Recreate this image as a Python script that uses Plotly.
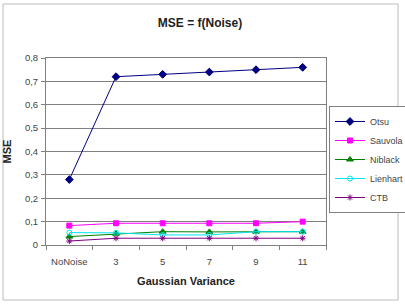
import plotly.graph_objects as go

categories = ["NoNoise", "3", "5", "7", "9", "11"]
otsu = [0.28, 0.72, 0.73, 0.74, 0.75, 0.76]
sauvola = [0.083, 0.093, 0.093, 0.093, 0.093, 0.10]
niblack = [0.036, 0.048, 0.057, 0.056, 0.057, 0.057]
lienhart = [0.053, 0.052, 0.043, 0.043, 0.057, 0.057]
ctb = [0.017, 0.029, 0.029, 0.029, 0.029, 0.029]

series = [
    ("Otsu", otsu, "#000080", "diamond", 6),
    ("Sauvola", sauvola, "#FF00FF", "square", 5),
    ("Niblack", niblack, "#008000", "triangle-up", 6),
    ("Lienhart", lienhart, "#00E5EE", "circle-open", 5),
    ("CTB", ctb, "#800080", "asterisk-open", 5),
]

fig = go.Figure()
for name, vals, color, sym, size in series:
    fig.add_trace(go.Scatter(
        x=categories, y=vals, name=name, mode="lines+markers",
        line=dict(color=color, width=1),
        marker=dict(symbol=sym, size=size, color=color,
                    line=dict(color=color, width=1)),
    ))

font = "Liberation Sans, Arial, sans-serif"
fig.update_layout(
    width=405, height=306,
    margin=dict(l=46, r=79, t=58, b=61, autoexpand=False),
    paper_bgcolor="white", plot_bgcolor="white",
    separators=", ",
    font=dict(family=font, size=10, color="#333333"),
    title=dict(text="<b>MSE = f(Noise)</b>", x=200 / 405, xanchor="center",
               y=1 - 23 / 306, yanchor="middle", yref="container",
               font=dict(size=12, color="#222222")),
    xaxis=dict(
        type="category", range=[-0.5, 5.5], tickangle=0,
        showline=True, linecolor="#808080", linewidth=1, mirror=True,
        showgrid=False, ticks="outside", ticklen=4, tickcolor="#808080",
        tickson="boundaries", zeroline=False, ticklabelstandoff=8,
        tickfont=dict(size=9.5, color="#444444"),
        title=dict(text="<b>Gaussian Variance</b>", standoff=10,
                   font=dict(size=11, color="#222222")),
    ),
    yaxis=dict(
        range=[0, 0.8], dtick=0.1, tick0=0,
        showline=True, linecolor="#808080", linewidth=1, mirror=True,
        showgrid=True, gridcolor="#808080", gridwidth=1,
        ticks="outside", ticklen=4, tickcolor="#808080", zeroline=False,
        ticklabelstandoff=1,
        tickfont=dict(size=9.5, color="#444444"),
        title=dict(text="<b>MSE</b>", standoff=11,
                   font=dict(size=11, color="#222222")),
    ),
    legend=dict(
        xref="container", yref="container",
        x=329 / 405, y=1 - 106 / 306, xanchor="left", yanchor="top",
        bordercolor="#808080", borderwidth=1, bgcolor="white",
        font=dict(size=9, color="#444444"), itemwidth=30,
        tracegroupgap=0,
    ),
)

fig.add_shape(type="rect", xref="paper", yref="paper",
              x0=(3 - 46) / 280, x1=(398 - 46) / 280,
              y0=(245 - 300) / 187, y1=(245 - 4) / 187,
              line=dict(color="#BBBBBB", width=1), layer="below")

fig.write_html("out.html")
